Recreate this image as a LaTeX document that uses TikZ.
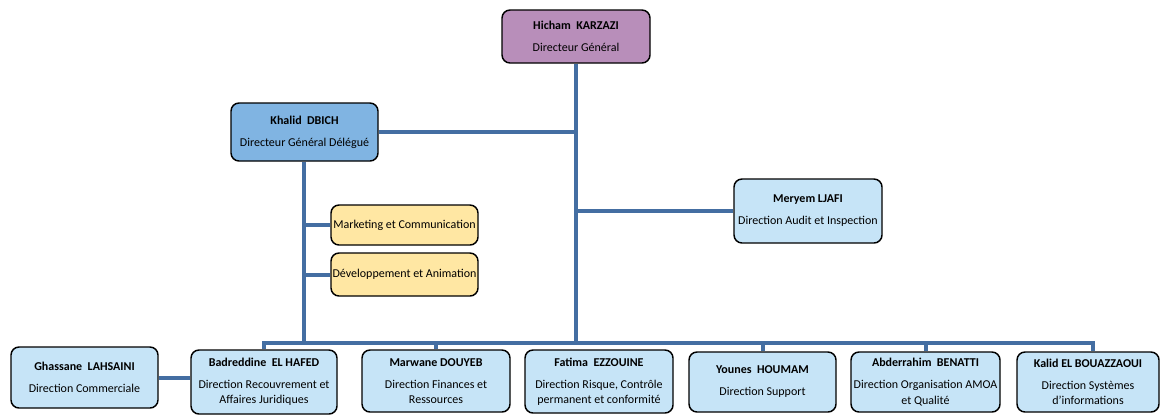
\documentclass[tikz,border=0pt]{standalone}
\usepackage{fontspec}
\setmainfont{Carlito}
\usetikzlibrary{backgrounds}
\definecolor{linec}{RGB}{68,110,162}
\definecolor{purp}{RGB}{184,142,186}
\definecolor{midblue}{RGB}{128,180,226}
\definecolor{lblue}{RGB}{198,228,247}
\definecolor{lyel}{RGB}{255,231,163}
\begin{document}
\begin{tikzpicture}[x=0.75pt,y=-0.75pt,
  box/.style={draw=black,line width=1.1pt,rounded corners=6pt,align=center,inner sep=1pt,
    font=\fontsize{9}{11.5}\selectfont},
  conn/.style={draw=linec,line width=3pt}]
\useasboundingbox (0,0) rectangle (1161,415);
\newcommand{\nm}[1]{\textbf{#1}\\[5pt]}
% boxes
\node[box,fill=purp,minimum width=148*0.75pt,minimum height=53*0.75pt] (hicham) at (576,36.5) {\nm{Hicham\ \ KARZAZI}Directeur Général};
\node[box,fill=midblue,minimum width=147*0.75pt,minimum height=58*0.75pt] (khalid) at (304.5,132) {\nm{Khalid\ \ DBICH}Directeur Général Délégué};
\node[box,fill=lyel,minimum width=147*0.75pt,minimum height=40*0.75pt] (mkt) at (404.5,225) {Marketing et Communication};
\node[box,fill=lyel,minimum width=147*0.75pt,minimum height=43*0.75pt] (dev) at (404.5,274.5) {Développement et Animation};
\node[box,fill=lblue,minimum width=148*0.75pt,minimum height=64*0.75pt] (meryem) at (808,211) {\nm{Meryem LJAFI}Direction Audit et Inspection};
\node[box,fill=lblue,minimum width=147*0.75pt,minimum height=61*0.75pt] (ghassane) at (84.5,377.5) {\nm{Ghassane\ \ LAHSAINI}Direction Commerciale};
\node[box,fill=lblue,minimum width=146*0.75pt,minimum height=64*0.75pt] (badr) at (264,382) {\nm{Badreddine\ \ EL HAFED}Direction Recouvrement et\\Affaires Juridiques};
\node[box,fill=lblue,minimum width=148*0.75pt,minimum height=62*0.75pt] (marwane) at (436,381) {\nm{Marwane DOUYEB}Direction Finances et\\Ressources};
\node[box,fill=lblue,minimum width=148*0.75pt,minimum height=63*0.75pt] (fatima) at (599,381.5) {\nm{Fatima\ \ EZZOUINE}Direction Risque, Contrôle\\permanent et conformité};
\node[box,fill=lblue,minimum width=147*0.75pt,minimum height=60*0.75pt] (younes) at (762.5,382) {\nm{Younes\ \ HOUMAM}Direction Support};
\node[box,fill=lblue,minimum width=149*0.75pt,minimum height=60*0.75pt] (abder) at (925.5,382) {\nm{Abderrahim\ \ BENATTI}Direction Organisation AMOA\\et Qualité};
\node[box,fill=lblue,minimum width=142*0.75pt,minimum height=60*0.75pt] (kalid) at (1088,382) {\nm{Kalid EL BOUAZZAOUI}Direction Systèmes\\d'informations};
% bus
\coordinate (busL) at (264,343);
\coordinate (busR) at (1093,343);
\coordinate (hx) at (576,0);
\coordinate (kx) at (304,0);
\begin{scope}[on background layer]
\draw[conn] (badr.north) -- (busL) -- (busR) -- (busR |- kalid.north);
\draw[conn] (hicham.south -| hx) -- (busL -| hx);
\draw[conn] (khalid.east) -- (khalid.east -| hx);
\draw[conn] (meryem.west) -- (meryem.west -| hx);
\draw[conn] (khalid.south -| kx) -- (busL -| kx);
\draw[conn] (mkt.west) -- (mkt.west -| kx);
\draw[conn] (dev.west) -- (dev.west -| kx);
\draw[conn] (marwane.north) -- (marwane.north |- busL);
\draw[conn] (younes.north) -- (younes.north |- busL);
\draw[conn] (abder.north) -- (abder.north |- busL);
\draw[conn] (ghassane.east) -- (ghassane.east -| badr.west);
\end{scope}
\end{tikzpicture}
\end{document}
